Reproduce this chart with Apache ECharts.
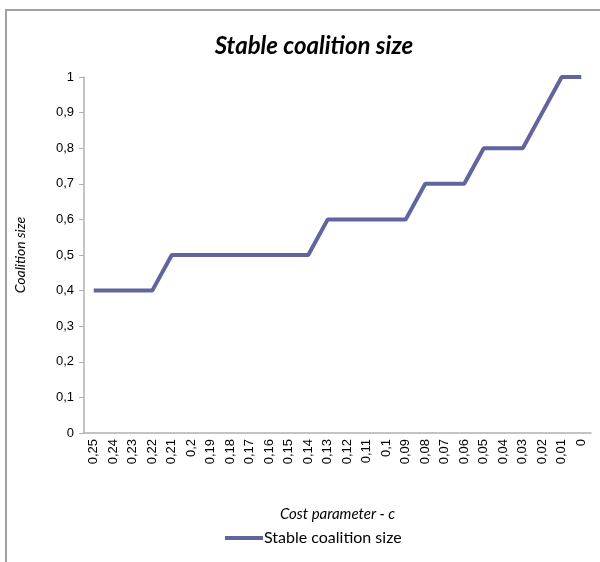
<!DOCTYPE html>
<html>
<head>
<meta charset="utf-8">
<script src="https://cdn.jsdelivr.net/npm/echarts@6/dist/echarts.min.js"></script>
<style>
  html, body { margin: 0; padding: 0; background: #fff; }
  #chart { width: 600px; height: 562px; }
</style>
</head>
<body>
<div id="chart"></div>
<script>
// Cost parameter c, from 0.25 down to 0
const costLabels = ['0,25','0,24','0,23','0,22','0,21','0,2','0,19','0,18','0,17','0,16','0,15','0,14','0,13',
                    '0,12','0,11','0,1','0,09','0,08','0,07','0,06','0,05','0,04','0,03','0,02','0,01','0'];
// Stable coalition size for each cost value
const coalitionSize = [0.4,0.4,0.4,0.4,0.5,0.5,0.5,0.5,0.5,0.5,0.5,0.5,0.6,
                       0.6,0.6,0.6,0.6,0.7,0.7,0.7,0.8,0.8,0.8,0.9,1,1];
const yTicks = { min: 0, max: 1, interval: 0.1 };

const textFont = 'Liberation Sans, Arial, sans-serif';
const titleFont = 'Lato, Open Sans, sans-serif';
const lineColor = '#62649e';

const chart = echarts.init(document.getElementById('chart'));
chart.setOption({
  animation: false,
  backgroundColor: '#fff',
  title: {
    text: 'Stable coalition size',
    left: 309,
    textAlign: 'center',
    top: 29,
    textStyle: { fontFamily: titleFont, fontSize: 24, fontWeight: 'bold', fontStyle: 'italic', color: '#000' }
  },
  graphic: [{
    type: 'rect',
    shape: { x: 6, y: 10, width: 700, height: 700 },
    style: { fill: 'none', stroke: '#a0a0a0', lineWidth: 2 },
    silent: true
  }],
  legend: {
    bottom: 11,
    left: 220,
    itemWidth: 38,
    itemHeight: 4,
    icon: 'rect',
    itemGap: 2,
    textStyle: { fontFamily: titleFont, fontSize: 16, color: '#000', padding: [0, 0, 0, -4] },
    data: ['Stable coalition size']
  },
  grid: { left: 84, right: 9, top: 77, bottom: 129 },
  xAxis: {
    type: 'category',
    data: costLabels,
    boundaryGap: true,
    name: 'Cost parameter - c',
    nameLocation: 'middle',
    nameGap: 74,
    nameTextStyle: { fontFamily: titleFont, fontSize: 15, fontStyle: 'italic', color: '#000' },
    axisLine: { lineStyle: { color: '#b0b0b0', width: 1.5 } },
    axisTick: { show: false },
    axisLabel: { rotate: 90, interval: 0, margin: 6, fontFamily: textFont, fontSize: 13, color: '#000' }
  },
  yAxis: {
    type: 'value',
    min: yTicks.min,
    max: yTicks.max,
    interval: yTicks.interval,
    name: 'Coalition size',
    nameLocation: 'middle',
    nameGap: 57,
    nameTextStyle: { fontFamily: titleFont, fontSize: 14, fontStyle: 'italic', color: '#000' },
    axisLine: { show: true, lineStyle: { color: '#b0b0b0', width: 1.5 } },
    axisTick: { show: true, inside: false, length: 5, lineStyle: { color: '#b0b0b0' } },
    splitLine: { show: false },
    axisLabel: {
      margin: 10, fontFamily: textFont, fontSize: 13, color: '#000',
      formatter: v => String(Math.round(v * 10) / 10).replace('.', ',')
    }
  },
  series: [{
    name: 'Stable coalition size',
    type: 'line',
    data: coalitionSize,
    symbol: 'none',
    lineStyle: { color: lineColor, width: 4 },
    itemStyle: { color: lineColor }
  }]
});
</script>
</body>
</html>
